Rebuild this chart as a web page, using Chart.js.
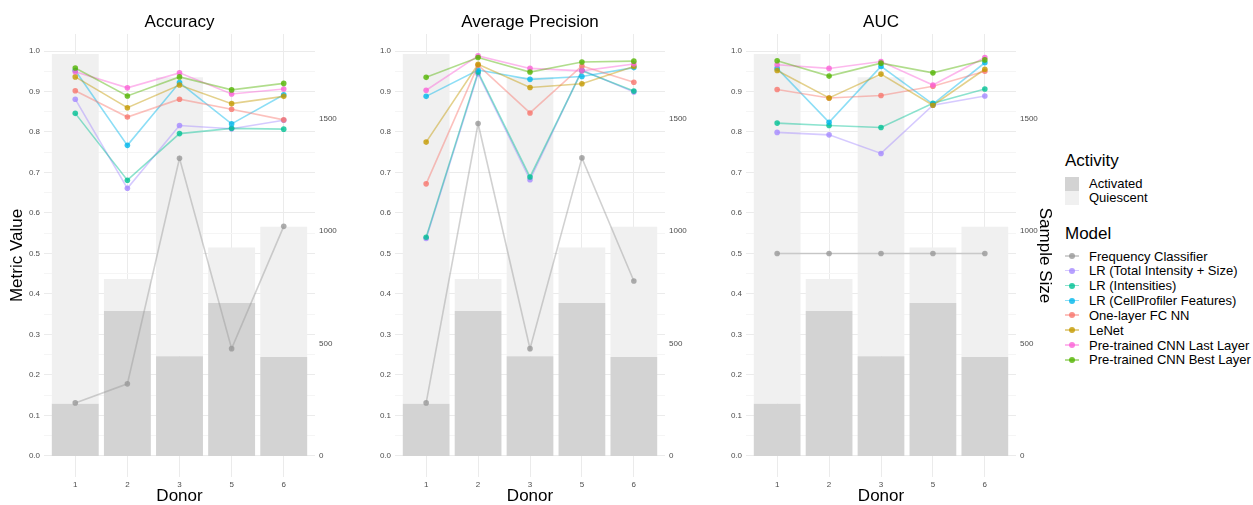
<!DOCTYPE html>
<html>
<head>
<meta charset="utf-8">
<script src="https://cdn.jsdelivr.net/npm/chart.js@4"></script>
<style>
  body { margin: 0; background: #fff; width: 1253px; height: 505px; overflow: hidden; position: relative;
         font-family: 'Liberation Sans', Arial, sans-serif; }
  canvas { position: absolute; top: 0; }
  .lg { position: absolute; display: flex; align-items: center; white-space: nowrap; color: #000; }
  .sw { width: 14px; height: 14px; margin-right: 10px; }
  .key { position: relative; width: 14px; height: 14px; margin-right: 10px; }
  .key .ln { position: absolute; left: 0; top: 6px; width: 14px; height: 1.6px; }
  .key .dt { position: absolute; left: 4px; top: 4px; width: 6px; height: 6px; border-radius: 50%; }
</style>
</head>
<body>
<canvas id="acc" width="350" height="505" style="left:0"></canvas>
<canvas id="ap" width="350" height="505" style="left:350px"></canvas>
<canvas id="auc" width="360" height="505" style="left:700px"></canvas>
<div id="legend"></div>
<script>
// donors on the x axis, cell counts per donor (secondary axis)
const donors = ['1', '2', '3', '5', '6'];
const activated = [232, 644, 443, 680, 440];
const quiescent = [1555, 143, 1240, 247, 579];
const sampleTicks = [0, 500, 1000, 1500];

const models = [
  'Frequency Classifier',
  'LR (Total Intensity + Size)',
  'LR (Intensities)',
  'LR (CellProfiler Features)',
  'One-layer FC NN',
  'LeNet',
  'Pre-trained CNN Last Layer',
  'Pre-trained CNN Best Layer'
];
const modelColors = ['#999999', '#A58AFF', '#00C094', '#00B6EB', '#F8766D', '#C49A00', '#FB61D7', '#53B400'];

// one row per model, one value per donor
const accuracy = [
  [0.131, 0.178, 0.735, 0.265, 0.567],
  [0.881, 0.661, 0.816, 0.808, 0.829],
  [0.846, 0.681, 0.796, 0.809, 0.807],
  [0.952, 0.767, 0.922, 0.820, 0.892],
  [0.902, 0.837, 0.881, 0.856, 0.830],
  [0.936, 0.860, 0.916, 0.870, 0.888],
  [0.949, 0.909, 0.946, 0.894, 0.906],
  [0.958, 0.889, 0.936, 0.904, 0.920]
];
const avgPrecision = [
  [0.131, 0.821, 0.265, 0.736, 0.432],
  [0.537, 0.944, 0.682, 0.953, 0.899],
  [0.540, 0.948, 0.689, 0.951, 0.901],
  [0.888, 0.953, 0.930, 0.937, 0.959],
  [0.672, 0.965, 0.847, 0.963, 0.923],
  [0.775, 0.967, 0.910, 0.919, 0.962],
  [0.903, 0.988, 0.957, 0.951, 0.968],
  [0.935, 0.984, 0.948, 0.973, 0.975]
];
const auc = [
  [0.500, 0.500, 0.500, 0.500, 0.500],
  [0.799, 0.793, 0.747, 0.866, 0.889],
  [0.822, 0.816, 0.811, 0.871, 0.906],
  [0.957, 0.824, 0.962, 0.869, 0.971],
  [0.905, 0.884, 0.890, 0.913, 0.950],
  [0.952, 0.884, 0.943, 0.866, 0.955],
  [0.966, 0.957, 0.974, 0.916, 0.984],
  [0.976, 0.938, 0.970, 0.946, 0.978]
];

const yMin = -0.052, yMax = 1.042;
const sampleFactor = 1800;   // sample size that lines up with metric 1.0
const gridValues = [];
for (let i = 0; i <= 20; i++) gridValues.push(Math.round(i * 5) / 100);
const isMajor = v => Math.abs(v * 10 - Math.round(v * 10)) < 1e-6;

Chart.defaults.font.family = "'Liberation Sans', Arial, sans-serif";

function rgba(hex, a) {
  const n = parseInt(hex.slice(1), 16);
  return `rgba(${n >> 16}, ${(n >> 8) & 255}, ${n & 255}, ${a})`;
}
const pts = arr => arr.map((v, j) => ({ x: j + 1, y: v }));

function panel(id, title, metric, showLeft, showRight, yWidth, y2Width) {
  const lines = models.map((m, i) => ({
    type: 'line',
    label: m,
    data: pts(metric[i]),
    yAxisID: 'y',
    borderColor: rgba(modelColors[i], 0.45),
    borderWidth: 1.6,
    pointBackgroundColor: rgba(modelColors[i], 0.8),
    pointBorderWidth: 0,
    pointRadius: 2.8,
    order: models.length - i
  }));
  const bars = [
    { type: 'bar', label: 'Activated', data: pts(activated), yAxisID: 'y2', stack: 's',
      backgroundColor: '#d3d3d3', barPercentage: 0.9, categoryPercentage: 1, order: 30 },
    { type: 'bar', label: 'Quiescent', data: pts(quiescent), yAxisID: 'y2', stack: 's',
      backgroundColor: '#f0f0f0', barPercentage: 0.9, categoryPercentage: 1, order: 31 }
  ];

  new Chart(document.getElementById(id), {
    type: 'line',
    data: { datasets: [...bars, ...lines] },
    options: {
      responsive: false,
      animation: false,
      layout: { padding: 0 },
      plugins: {
        legend: { display: false },
        tooltip: { enabled: false },
        title: { display: true, text: title, fullSize: false, color: '#000',
                 font: { size: 17, weight: 'normal', lineHeight: 1 }, padding: { top: 13.5, bottom: 3.5 } }
      },
      scales: {
        x: {
          type: 'linear', min: 0.4, max: 5.6, offset: false, stacked: true,
          afterBuildTicks: s => { s.ticks = donors.map((d, j) => ({ value: j + 1 })); },
          ticks: { callback: v => donors[v - 1], font: { size: 8 }, color: '#4d4d4d', padding: 3,
                   maxRotation: 0, autoSkip: false },
          grid: { color: '#ebebeb', offset: false, drawTicks: false },
          border: { display: false },
          title: { display: true, text: 'Donor', color: '#000', font: { size: 17, lineHeight: 1 }, padding: 0 },
          afterFit: s => { s.height = 28; }
        },
        y: {
          position: 'left', min: yMin, max: yMax, stacked: false,
          afterBuildTicks: s => { s.ticks = gridValues.map(v => ({ value: v })); },
          ticks: { callback: v => isMajor(v) ? v.toFixed(1) : '', font: { size: 8 }, color: '#4d4d4d',
                   padding: 4, autoSkip: false },
          grid: { drawTicks: false, color: c => (c.tick && isMajor(c.tick.value)) ? '#ebebeb' : '#f5f5f5' },
          border: { display: false },
          title: { display: showLeft, text: 'Metric Value', color: '#000', font: { size: 17, lineHeight: 1 },
                   padding: { top: 8.5, bottom: 0 } },
          afterFit: s => { s.width = yWidth; }
        },
        y2: {
          position: 'right', min: yMin * sampleFactor, max: yMax * sampleFactor, stacked: true,
          afterBuildTicks: s => { s.ticks = sampleTicks.map(v => ({ value: v })); },
          ticks: { callback: v => String(v), font: { size: 8 }, color: '#4d4d4d', padding: 4, autoSkip: false },
          grid: { display: false, drawTicks: false },
          border: { display: false },
          title: { display: showRight, text: 'Sample Size', color: '#000', font: { size: 17, lineHeight: 1 },
                   padding: { top: 6.5, bottom: 0 } },
          afterFit: s => { s.width = y2Width; }
        }
      }
    }
  });
}

panel('acc', 'Accuracy', accuracy, true, false, 44, 35);
panel('ap', 'Average Precision', avgPrecision, false, false, 45, 35);
panel('auc', 'AUC', auc, false, true, 46, 44);

// shared legend on the right
const legend = document.getElementById('legend');
function row(center, h, html, size) {
  const d = document.createElement('div');
  d.className = 'lg';
  d.style.left = '1065px';
  d.style.top = (center - h / 2) + 'px';
  d.style.height = h + 'px';
  d.style.fontSize = size + 'px';
  d.innerHTML = html;
  legend.appendChild(d);
}
row(161, 20, 'Activity', 17);
row(183.5, 14, '<span class="sw" style="background:#d3d3d3"></span>Activated', 13);
row(197.5, 14, '<span class="sw" style="background:#f0f0f0"></span>Quiescent', 13);
row(234, 20, 'Model', 17);
models.forEach((m, i) => {
  const key = `<span class="key"><span class="ln" style="background:${rgba(modelColors[i], 0.45)}"></span>` +
              `<span class="dt" style="background:${rgba(modelColors[i], 0.8)}"></span></span>`;
  row(256 + i * 14.85, 15, key + m, 13);
});
</script>
</body>
</html>
